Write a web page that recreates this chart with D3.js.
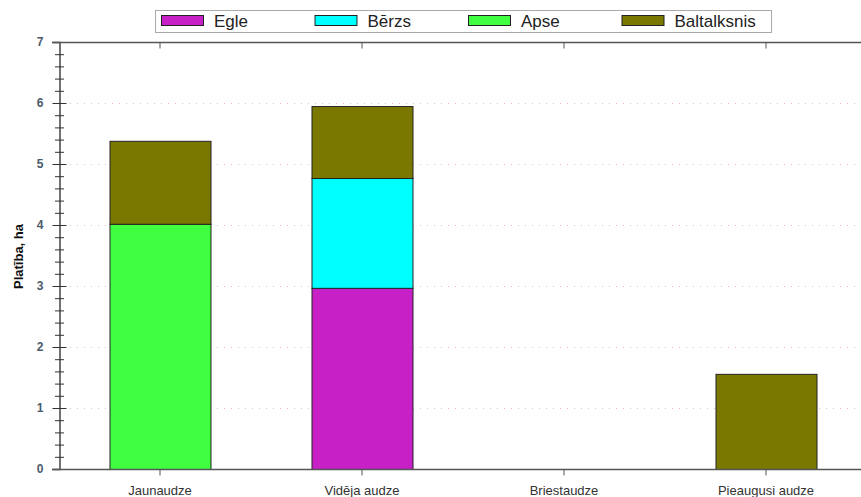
<!DOCTYPE html>
<html><head><meta charset="utf-8">
<script src="https://cdn.jsdelivr.net/npm/d3@7"></script>
<style>body{margin:0;background:#fff;}svg{display:block;font-family:"Liberation Sans",Arial,sans-serif;}</style>
</head><body>
<svg id="c" width="861" height="497"></svg>
<script>
const categories = ["Jaunaudze", "Vidēja audze", "Briestaudze", "Pieaugusi audze"];
const seriesNames = ["Egle", "Bērzs", "Apse", "Baltalksnis"];
const egle = [0, 2.97, 0, 0];
const berzs = [0, 1.80, 0, 0];
const apse = [4.02, 0, 0, 0];
const baltalksnis = [1.36, 1.18, 0, 1.56];
const colors = ["#c620c6", "#00ffff", "#40ff40", "#7b7800"];
const yTicks = [0, 1, 2, 3, 4, 5, 6, 7];

const svg = d3.select("#c");
const pL = 59, pR = 867, pT = 42, pB = 469;
const x = d3.scaleBand().domain(categories).range([pL, pR]).paddingInner(0.5).paddingOuter(0.25);
const y = d3.scaleLinear().domain([0, 7]).range([pB, pT]);

const rows = categories.map((c, i) => ({cat: c, Egle: egle[i], "Bērzs": berzs[i], Apse: apse[i], Baltalksnis: baltalksnis[i]}));
const stacked = d3.stack().keys(seriesNames)(rows);

// gridlines
svg.append("g").selectAll("line").data(yTicks.filter(t => t > 0 && t < 7)).join("line")
  .attr("x1", pL + 11).attr("x2", 861).attr("y1", d => y(d) + 0.5).attr("y2", d => y(d) + 0.5)
  .attr("stroke", "#f0b8c0").attr("stroke-width", 1).attr("stroke-dasharray", "1,6");

// bars
svg.append("g").selectAll("g").data(stacked).join("g")
  .attr("fill", (d, i) => colors[i])
  .selectAll("rect").data(d => d.filter(s => s[1] - s[0] > 0)).join("rect")
  .attr("x", d => x(d.data.cat) + 0.5)
  .attr("y", d => y(d[1]) + 0.5)
  .attr("width", x.bandwidth())
  .attr("height", d => y(d[0]) - y(d[1]))
  .attr("stroke", "#222").attr("stroke-width", 1);

// y axis
const yAxis = svg.append("g").attr("transform", `translate(${pL + 0.5},0)`)
  .call(d3.axisLeft(y).tickValues(yTicks).tickSize(7).tickPadding(9).tickFormat(d3.format("d")));
yAxis.select(".domain").attr("stroke", "#444").attr("stroke-width", 1.5);
yAxis.selectAll(".tick line").attr("x2", 7).attr("x1", -7).attr("stroke", "#333");
yAxis.selectAll(".tick text").attr("fill", "#4a5a6a").attr("font-size", 12).attr("font-weight", "bold");
// minor ticks
const minor = d3.range(0, 7.001, 0.2).filter(v => Math.abs(v - Math.round(v)) > 0.01);
svg.append("g").selectAll("line").data(minor).join("line")
  .attr("x1", pL - 4).attr("x2", pL + 5).attr("y1", d => y(d) + 0.5).attr("y2", d => y(d) + 0.5)
  .attr("stroke", "#333");

// bottom axis
const xAxis = svg.append("g").attr("transform", `translate(0,${pB + 0.5})`)
  .call(d3.axisBottom(x).tickSize(6).tickSizeOuter(0).tickPadding(10));
xAxis.select(".domain").attr("stroke", "#555").attr("stroke-width", 1.5);
xAxis.selectAll(".tick line").attr("stroke", "#555");
xAxis.selectAll(".tick text").attr("fill", "#333").attr("font-size", 13);
xAxis.select(".domain").attr("d", `M${pL - 7},0H${pR}`);

// top axis
const tAxis = svg.append("g").attr("transform", `translate(0,${pT + 0.5})`)
  .call(d3.axisBottom(x).tickSize(6).tickSizeOuter(0).tickFormat(""));
tAxis.select(".domain").attr("stroke", "#555").attr("stroke-width", 1.5).attr("d", `M${pL - 7},0H${pR}`);
tAxis.selectAll(".tick line").attr("stroke", "#555");

// y label
svg.append("text").attr("transform", `translate(23,${(pT + pB) / 2 + 1}) rotate(-90)`)
  .attr("text-anchor", "middle").attr("font-size", 13).attr("font-weight", "bold").attr("fill", "#111")
  .text("Platība, ha");

// legend
const lg = svg.append("g");
lg.append("rect").attr("x", 155.5).attr("y", 10.5).attr("width", 616).attr("height", 22)
  .attr("fill", "#fff").attr("stroke", "#aaa");
const items = lg.selectAll("g").data(seriesNames).join("g")
  .attr("transform", (d, i) => `translate(${161 + i * 153.5},0)`);
items.append("rect").attr("x", 0.5).attr("y", 15.5).attr("width", 42).attr("height", 10)
  .attr("fill", (d, i) => colors[i]).attr("stroke", "#222");
items.append("text").attr("x", 53).attr("y", 27).attr("font-size", 17).attr("fill", "#222").text(d => d);
</script>
</body></html>
